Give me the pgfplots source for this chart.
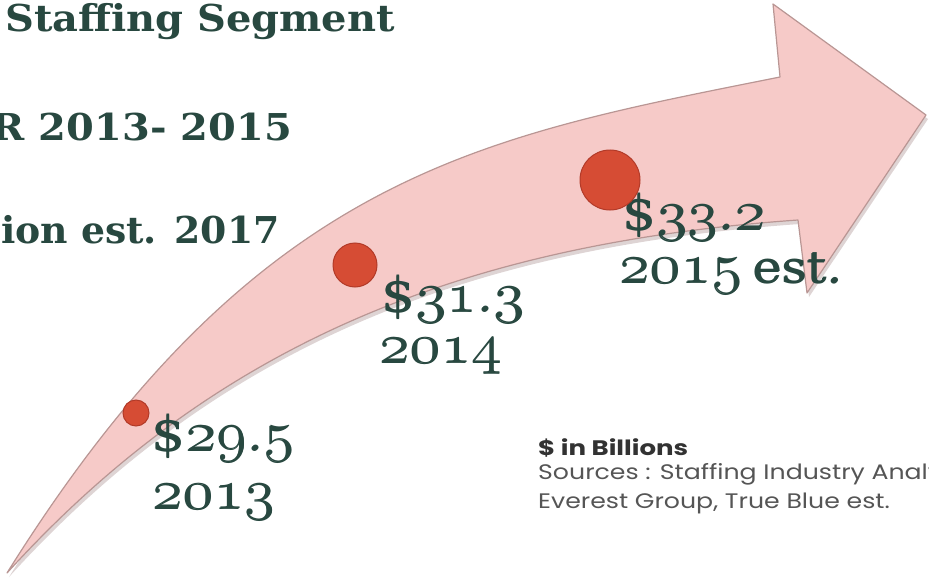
\RequirePackage{fix-cm}
\documentclass[border=0pt]{standalone}
\usepackage{pgfplots}
\pgfplotsset{compat=1.18}
\usepackage{fontspec}
\setmainfont{DejaVu Serif}
\newfontfamily\srcfont{Poppins}
\definecolor{titlec}{RGB}{40,72,64}
\definecolor{arrowfill}{RGB}{246,202,200}
\definecolor{arrowedge}{RGB}{185,150,148}
\definecolor{shadowc}{RGB}{222,212,212}
\definecolor{dotred}{RGB}{214,76,52}
\definecolor{dotedge}{RGB}{178,58,40}
\definecolor{srcdark}{RGB}{50,50,50}
\definecolor{srcgrey}{RGB}{85,85,85}
\newcommand{\numfont}{\fontsize{56bp}{56bp}\selectfont}
\newcommand{\dol}{{\fontsize{48bp}{48bp}\selectfont\$}}
\newcommand{\os}[1]{$\mathnormal{#1}$}
\newcommand{\heavy}[1]{\rlap{\kern0.7bp\raisebox{0.35bp}{#1}}#1}
\newcommand{\lab}[1]{\scalebox{1.12}[1]{\heavy{#1}}}
\newcommand{\arrowpath}{(7,573) .. controls (257,173) and (480,137) .. (780,77) -- (773,4) -- (926,115) -- (807,293) -- (798,220) .. controls (448,244.5) and (207,353) .. (7,573) -- cycle}
\begin{document}
\begin{tikzpicture}
\useasboundingbox (0,0) rectangle (929bp,586bp);
\clip (0,0) rectangle (929bp,586bp);
\begin{axis}[at={(0,0)}, anchor=south west, scale only axis,
  width=929bp, height=586bp, xmin=0, xmax=929, ymin=0, ymax=586,
  y dir=reverse, hide axis, clip=false]
% arrow shadow
\begin{scope}[shift={(axis direction cs:2,4)}]
\fill[shadowc] \arrowpath;
\end{scope}
% arrow
\filldraw[fill=arrowfill, draw=arrowedge, line width=1.2bp, line join=round] \arrowpath;
% data points
\addplot[only marks, mark=*, mark size=13bp, mark options={fill=dotred, draw=dotedge, line width=1bp}] coordinates {(136,413)};
\addplot[only marks, mark=*, mark size=22bp, mark options={fill=dotred, draw=dotedge, line width=1bp}] coordinates {(355,265)};
\addplot[only marks, mark=*, mark size=30bp, mark options={fill=dotred, draw=dotedge, line width=1bp}] coordinates {(610,180)};
% value labels
\node[anchor=base west, inner sep=0, text=titlec, font=\numfont] at (151,451) {\lab{\dol\os{29.5}}};
\node[anchor=base west, inner sep=0, text=titlec, font=\numfont] at (152,509) {\lab{\os{2013}}};
\node[anchor=base west, inner sep=0, text=titlec, font=\numfont] at (381,312) {\lab{\dol\os{31.3}}};
\node[anchor=base west, inner sep=0, text=titlec, font=\numfont] at (379,363) {\lab{\os{2014}}};
\node[anchor=base west, inner sep=0, text=titlec, font=\numfont] at (622,230) {\lab{\dol\os{33.2}}};
\node[anchor=base west, inner sep=0, text=titlec, font=\numfont] at (619,283) {\lab{\os{2015}\,{\fontsize{44bp}{44bp}\selectfont est.}}};
% titles
\node[anchor=base west, inner sep=0, text=titlec, font=\bfseries\fontsize{37bp}{37bp}\selectfont] at (5,32) {\scalebox{1.08}[1]{Staffing Segment}};
\node[anchor=base east, inner sep=0, text=titlec, font=\bfseries\fontsize{37bp}{37bp}\selectfont] at (292,140) {\scalebox{1.08}[1]{CAGR 2013- 2015}};
\node[anchor=base west, inner sep=0, text=titlec, font=\bfseries\fontsize{37bp}{37bp}\selectfont] at (1,243) {\scalebox{1.02}[1]{ion est. 2017}};
% sources
\node[anchor=base west, inner sep=0, text=srcdark, font=\srcfont\bfseries\fontsize{21bp}{21bp}\selectfont] at (538,455) {\scalebox{1.24}[1]{\$ in Billions}};
\node[anchor=base west, inner sep=0, text=srcgrey, font=\srcfont\fontsize{21bp}{21bp}\selectfont] at (538,479) {\scalebox{1.2}[1]{Sources : Staffing Industry Analysts,}};
\node[anchor=base west, inner sep=0, text=srcgrey, font=\srcfont\fontsize{21bp}{21bp}\selectfont] at (538,508) {\scalebox{1.2}[1]{Everest Group, True Blue est.}};
\end{axis}
\end{tikzpicture}
\end{document}
